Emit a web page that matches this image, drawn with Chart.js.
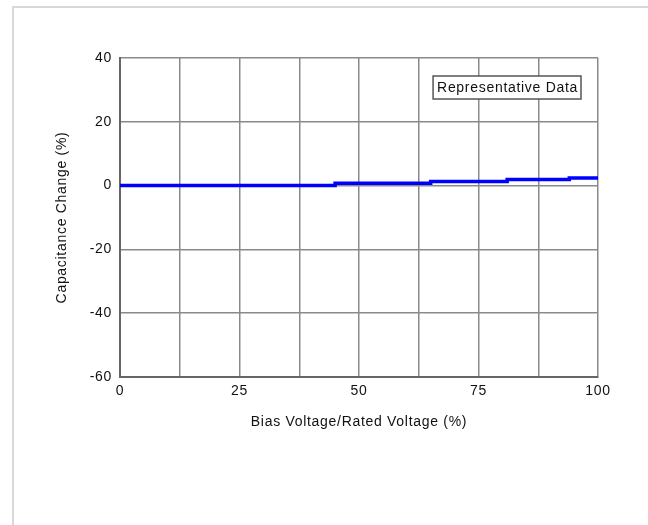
<!DOCTYPE html>
<html>
<head>
<meta charset="utf-8">
<script src="https://cdn.jsdelivr.net/npm/chart.js@4.4.1/dist/chart.umd.min.js"></script>
<style>
  html, body { margin: 0; padding: 0; background: #fff; }
  #frame { position: absolute; left: 12px; top: 6px; width: 700px; height: 600px;
           border-top: 2px solid #d5d8dc; border-left: 2px solid #d5d8dc; }
  #wrap { position: absolute; left: 0; top: 0; width: 648px; height: 525px; }
</style>
</head>
<body>
<div id="frame"></div>
<div id="wrap"><canvas id="capChart"></canvas></div>
<script>
// Sample data
const biasRatio = [0, 45, 65, 81, 94, 100];       // Bias Voltage / Rated Voltage (%)
const capChange = [0, 0.7, 1.3, 1.9, 2.4, 2.4];   // Capacitance Change (%)
const xLabelTicks = [0, 25, 50, 75, 100];
const yTicks = [-60, -40, -20, 0, 20, 40];
const noteText = 'Representative Data';

const points = biasRatio.map((x, i) => ({x: x, y: capChange[i]}));

const textColor = '#111';
const gridColor = '#8a8a8a';
const fontFamily = 'Liberation Sans';
const fontSize = 14;
const spacing = '0.7px';

// the old chart font is spread out, so widen the letters a bit
const spacingPlugin = {
    id: 'letterSpacing',
    beforeUpdate(chart) { chart.ctx.letterSpacing = spacing; },
    beforeLayout(chart) { chart.ctx.letterSpacing = spacing; },
    beforeDraw(chart) { chart.ctx.letterSpacing = spacing; }
};

// "Representative Data" note box, top right of the plot
const notePlugin = {
    id: 'noteBox',
    afterDraw(chart) {
        const ctx = chart.ctx;
        const area = chart.chartArea;
        ctx.save();
        ctx.letterSpacing = spacing;
        ctx.font = fontSize + 'px "' + fontFamily + '"';
        const w = ctx.measureText(noteText).width + 7;
        const h = 23;
        const right = area.right - 17;
        const top = area.top + 18;
        ctx.fillStyle = '#fff';
        ctx.fillRect(right - w, top, w, h);
        ctx.strokeStyle = '#555';
        ctx.lineWidth = 1.5;
        ctx.strokeRect(right - w, top, w, h);
        ctx.fillStyle = textColor;
        ctx.textBaseline = 'middle';
        ctx.fillText(noteText, right - w + 4, top + h / 2 + 1);
        ctx.restore();
    }
};

const ctx = document.getElementById('capChart').getContext('2d');
const capChart = new Chart(ctx, {
    type: 'line',
    data: {
        datasets: [{
            data: points,
            borderColor: '#0000ff',
            borderWidth: 3.5,
            pointRadius: 0,
            stepped: true,
            fill: false
        }]
    },
    options: {
        responsive: true,
        maintainAspectRatio: false,
        animation: false,
        events: [],
        layout: { padding: { left: 54, right: 50, top: 58, bottom: 94 } },
        plugins: { legend: { display: false }, tooltip: { enabled: false } },
        scales: {
            x: {
                type: 'linear',
                min: xLabelTicks[0],
                max: xLabelTicks[xLabelTicks.length - 1],
                afterFit(scale) { scale.height = 54; },
                ticks: {
                    stepSize: 12.5,
                    autoSkip: false,
                    maxRotation: 0,
                    padding: 6,
                    color: textColor,
                    font: { family: fontFamily, size: fontSize },
                    callback: v => xLabelTicks.includes(v) ? String(v) : ''
                },
                grid: { color: gridColor, lineWidth: 1.5, drawTicks: false },
                border: { color: '#666', width: 2 },
                title: {
                    display: true,
                    text: 'Bias Voltage/Rated Voltage (%)',
                    color: textColor,
                    font: { family: fontFamily, size: fontSize },
                    padding: 0
                }
            },
            y: {
                min: yTicks[0],
                max: yTicks[yTicks.length - 1],
                afterFit(scale) { scale.width = 66; },
                ticks: {
                    stepSize: 20,
                    padding: 8,
                    color: textColor,
                    font: { family: fontFamily, size: fontSize }
                },
                grid: { color: gridColor, lineWidth: 1.5, drawTicks: false },
                border: { color: '#666', width: 2 },
                title: {
                    display: true,
                    text: 'Capacitance Change (%)',
                    color: textColor,
                    font: { family: fontFamily, size: fontSize },
                    padding: 0
                }
            }
        }
    },
    plugins: [spacingPlugin, notePlugin]
});
</script>
</body>
</html>
